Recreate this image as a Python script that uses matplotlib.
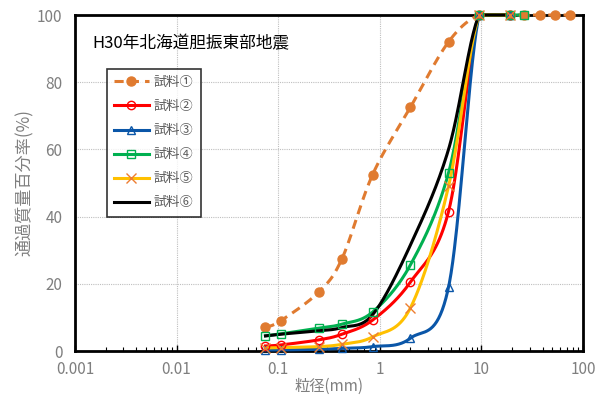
import numpy as np
import matplotlib
matplotlib.use("Agg")
import matplotlib.pyplot as plt
from matplotlib.ticker import LogLocator, NullFormatter

plt.rcParams['font.family'] = ['Noto Sans CJK JP', 'DejaVu Sans']

sizes = [0.075, 0.106, 0.25, 0.425, 0.85, 2.0, 4.75, 9.5, 19.0, 26.5, 37.5, 53.0, 75.0]

s1 = [7.0, 9.0, 17.5, 27.5, 52.5, 72.5, 92.0, 100, 100, 100, 100, 100, 100]
s2 = [1.5, 1.8, 3.3, 5.0, 9.2, 20.5, 41.5, 100, 100]
s3 = [0.3, 0.3, 0.5, 0.8, 1.3, 3.8, 19.0, 100, 100]
s4 = [4.5, 5.1, 6.8, 8.0, 11.6, 25.6, 53.0, 100, 100, 100]
s5 = [0.9, 1.0, 1.3, 2.0, 4.2, 12.8, 49.0, 100, 100]
s6 = [4.5, 5.0, 6.0, 7.0, 10.8, 31.5, 60.0, 100, 100]

labels = ['試料①', '試料②', '試料③', '試料④', '試料⑤', '試料⑥']
title = 'H30年北海道胆振東部地震'
xlabel = '粒径(mm)'
ylabel = '通過質量百分率(%)'


def smooth(xs, ys, n=40):
    # Excel-like smoothed line (Catmull-Rom Bezier) in log-x / pixel-like space,
    # drawn within the 0-100 plot range
    X = np.log10(np.asarray(xs, float)) * 101.6
    Y = np.asarray(ys, float) * 3.36
    P = np.column_stack([X, Y])
    Pext = np.vstack([P[0], P, P[-1]])
    out = []
    for i in range(1, len(Pext) - 2):
        p0, p1, p2, p3 = Pext[i - 1], Pext[i], Pext[i + 1], Pext[i + 2]
        t = np.linspace(0, 1, n, endpoint=False)[:, None]
        c1 = p1 + (p2 - p0) / 6.0
        c2 = p2 - (p3 - p1) / 6.0
        b = ((1 - t) ** 3) * p1 + 3 * ((1 - t) ** 2) * t * c1 + 3 * (1 - t) * t ** 2 * c2 + t ** 3 * p2
        out.append(b)
    out.append(P[-1][None, :])
    out = np.vstack(out)
    sx = 10 ** (out[:, 0] / 101.6)
    sy = np.clip(out[:, 1] / 3.36, 0, 100)
    return sx, sy


fig = plt.figure(figsize=(6.01, 4.0), dpi=100)
ax = fig.add_axes([0.1248, 0.1225, 0.8452, 0.84])

series = [
    (s1, dict(color='#E07B30', ls=(0, (3, 2)), marker='o', mfc='#E07B30', mec='#E07B30', ms=6.5)),
    (s2, dict(color='#FF0000', ls='-', marker='o', mfc='none', mec='#FF0000', ms=6)),
    (s3, dict(color='#0A56A8', ls='-', marker='^', mfc='none', mec='#0A56A8', ms=6)),
    (s4, dict(color='#00B050', ls='-', marker='s', mfc='none', mec='#00B050', ms=6)),
    (s5, dict(color='#FFC000', ls='-', marker='x', mfc='none', mec='#ED7D31', ms=7)),
    (s6, dict(color='#000000', ls='-', marker=None, ms=6)),
]

handles = []
for (ys, st), lab in zip(series, labels):
    xs = sizes[:len(ys)]
    sx, sy = smooth(xs, ys)
    ax.plot(sx, sy, color=st['color'], ls=st['ls'], lw=2.2, zorder=3, clip_on=False)
    if st['marker']:
        ax.plot(xs, ys, ls='none', marker=st['marker'], mfc=st['mfc'], mec=st['mec'],
                ms=st['ms'], mew=1.0, zorder=4, clip_on=False)
    h, = ax.plot([], [], color=st['color'], ls=st['ls'], lw=2.2,
                 marker=st['marker'] if st['marker'] else None,
                 mfc=st.get('mfc'), mec=st.get('mec'), ms=st['ms'], mew=1.0)
    handles.append(h)

ax.set_xscale('log')
ax.set_xlim(0.001, 100)
ax.set_ylim(0, 100)
ax.xaxis.set_minor_locator(LogLocator(base=10, subs=np.arange(2, 10), numticks=10))
ax.xaxis.set_minor_formatter(NullFormatter())
ax.set_xticks([0.001, 0.01, 0.1, 1, 10, 100])
ax.set_xticklabels(['0.001', '0.01', '0.1', '1', '10', '100'])
ax.set_yticks([0, 20, 40, 60, 80, 100])
ax.set_yticklabels(['0', '20', '40', '60', '80', '100'])

ax.grid(True, which='major', color='#BFBFBF', ls=(0, (1, 1)), lw=0.8)
ax.set_axisbelow(True)
for sp in ax.spines.values():
    sp.set_linewidth(2.0)
    sp.set_color('black')

ax.tick_params(axis='x', which='major', direction='in', length=4, width=1, colors='black',
               labelcolor='#7F7F7F', labelsize=11, pad=7)
ax.tick_params(axis='x', which='minor', direction='in', length=3, width=0.8, colors='black')
ax.tick_params(axis='y', which='major', length=0, labelcolor='#7F7F7F', labelsize=11, pad=9)

ax.set_xlabel(xlabel, color='#7F7F7F', fontsize=11, labelpad=0)
ax.set_ylabel(ylabel, color='#7F7F7F', fontsize=12.3, labelpad=2)

ax.text(0.035, 0.915, title, transform=ax.transAxes, fontsize=12, color='black',
        ha='left', va='center')

leg = ax.legend(handles, labels, loc='upper left', bbox_to_anchor=(0.063, 0.84),
                frameon=True, fancybox=False, edgecolor='black', fontsize=9.5,
                labelcolor='#595959', handlelength=2.6, labelspacing=0.84,
                borderpad=0.55, handletextpad=0.4, borderaxespad=0)
leg.get_frame().set_linewidth(1.2)
leg.set_zorder(5)

fig.savefig('out.png', dpi=100)
